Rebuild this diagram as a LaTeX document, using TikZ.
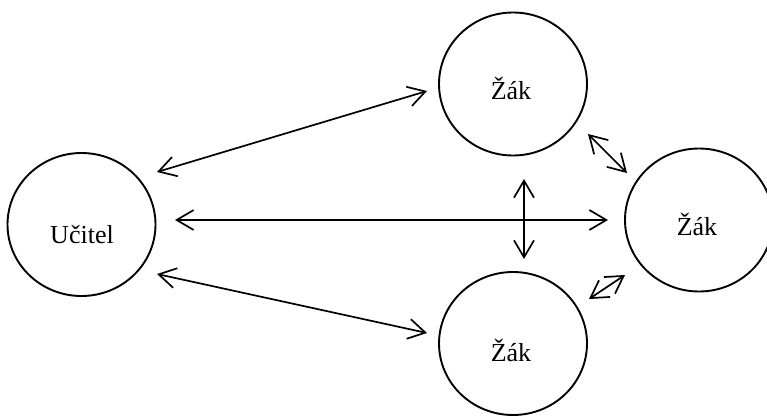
\documentclass[tikz,border=0pt]{standalone}
\usepackage{fontspec}
\setmainfont{Liberation Serif}
\usetikzlibrary{arrows.meta,shapes.geometric}
\begin{document}
\begin{tikzpicture}[x=1pt,y=-1pt,
  person/.style={ellipse,draw,line width=1.9pt,minimum width=148pt,minimum height=143pt,inner sep=0pt},
  caption/.style={anchor=base,inner sep=0pt,font=\fontsize{26}{30}\selectfont},
  link/.style={line width=1.7pt,{Straight Barb[length=17pt,width=20pt]}-{Straight Barb[length=17pt,width=20pt]}}]
\useasboundingbox (0,0) rectangle (767,415);
% people
\node[person] (ucitel) at (81.5,224.5) {};
\node[person] (zak1) at (513,84) {};
\node[person] (zak2) at (699,220) {};
\node[person] (zak3) at (513,343.5) {};
% names
\node[caption] (tucitel) at (82,243) {Učitel};
\node[caption] (tzak1) at (511,99) {Žák};
\node[caption] (tzak2) at (697,235) {Žák};
\node[caption] (tzak3) at (511,361) {Žák};
% arrow end points
\coordinate (a1) at (157,172);
\coordinate (a2) at (427,91);
\coordinate (b1) at (175,220);
\coordinate (b2) at (608,220);
\coordinate (c1) at (157,274);
\coordinate (c2) at (427,333);
\coordinate (d1) at (524,179);
\coordinate (d2) at (524,259);
\coordinate (e1) at (588,134);
\coordinate (e2) at (627,173);
\coordinate (f1) at (589,299);
\coordinate (f2) at (625,275);
% relations
\draw[link] (a1) -- (a2);
\draw[link] (b1) -- (b2);
\draw[link] (c1) -- (c2);
\draw[link] (d1) -- (d2);
\draw[link] (e1) -- (e2);
\draw[link] (f1) -- (f2);
\end{tikzpicture}
\end{document}
